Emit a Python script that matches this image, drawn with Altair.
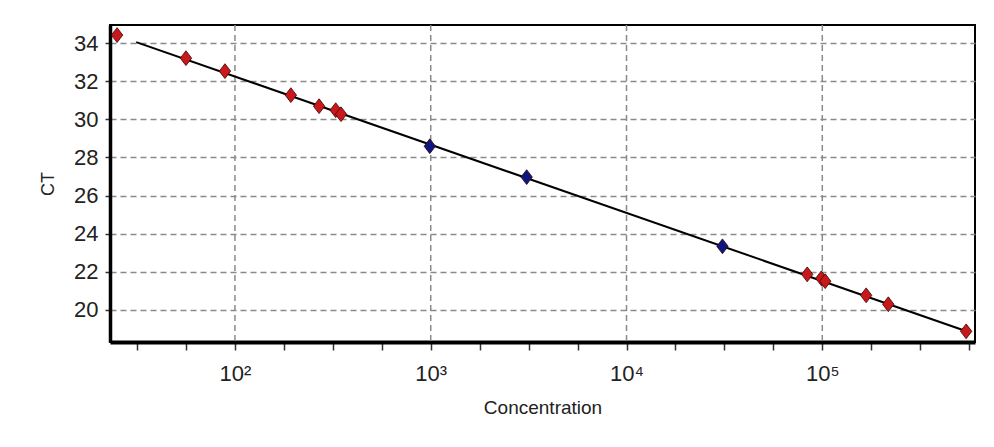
import altair as alt
import pandas as pd

# Sample points (concentration, CT, group)
conc = [25.0, 56.2, 88.9, 193, 269, 327, 348, 989, 3090, 30900,
        83750, 98850, 103500, 167500, 217300, 543000]
ct = [34.42, 33.21, 32.53, 31.27, 30.69, 30.48, 30.27, 28.59, 26.97, 23.34,
      21.87, 21.66, 21.51, 20.77, 20.30, 18.88]
group = ["unknown", "unknown", "unknown", "unknown", "unknown", "unknown", "unknown",
         "standard", "standard", "standard",
         "unknown", "unknown", "unknown", "unknown", "unknown", "unknown"]

# Fitted standard curve
fit_conc = [31.3, 549500]
fit_ct = [34.05, 18.87]

# Axis ticks
x_ticks = [31.62, 56.23, 100, 177.8, 316.2, 562.3, 1000, 1778, 3162, 5623,
           10000, 17783, 31623, 56234, 100000, 177828, 316228, 562341]
x_decades = [100, 1000, 10000, 100000]
y_ticks = [20, 22, 24, 26, 28, 30, 32, 34]

pts = pd.DataFrame({"conc": conc, "ct": ct, "group": group})
fit = pd.DataFrame({"conc": fit_conc, "ct": fit_ct})
dec = pd.DataFrame({"conc": x_decades})

FONT = "Liberation Sans"

label_expr = ("abs(log(datum.value)/LN10 - round(log(datum.value)/LN10)) < 0.01 ? "
              "'10' + ['⁰','¹','²','³','⁴','⁵','⁶'][round(log(datum.value)/LN10)] : ''")

xenc = alt.X("conc:Q",
             scale=alt.Scale(type="log", domain=[23.0, 602560], nice=False),
             axis=alt.Axis(values=x_ticks, labelExpr=label_expr, grid=False,
                           title="Concentration", titleFont=FONT, titleFontSize=19,
                           titleFontWeight="normal", titleColor="#222",
                           titlePadding=14,
                           labelFont=FONT, labelFontSize=22, labelColor="#222",
                           labelPadding=13, labelFlush=False, labelOverlap=False,
                           tickSize=8, tickColor="#333", tickWidth=1.5,
                           domainColor="black", domainWidth=4))
yenc = alt.Y("ct:Q",
             scale=alt.Scale(domain=[18.32, 34.95], nice=False, zero=False),
             axis=alt.Axis(values=y_ticks, grid=True, gridDash=[6, 4],
                           gridColor="#8a8a8a", gridWidth=1.5,
                           title="CT", titleFont=FONT, titleFontSize=18,
                           titleFontWeight="normal", titleColor="#222",
                           titlePadding=16,
                           labelFont=FONT, labelFontSize=22, labelColor="#222",
                           labelPadding=7, labelFlush=False,
                           tickSize=5, tickColor="#333", tickWidth=1.5,
                           domainColor="black", domainWidth=3.5))

vgrid = alt.Chart(dec).mark_rule(strokeDash=[6, 4], color="#8a8a8a",
                                 strokeWidth=1.5).encode(x=xenc)

line = alt.Chart(fit).mark_line(color="black", strokeWidth=2).encode(x=xenc, y=yenc)

points = alt.Chart(pts).mark_point(
    shape="M0,-1.3L1,0L0,1.3L-1,0Z", filled=True, size=130,
    stroke="#3a0000", strokeWidth=0.8, opacity=1
).encode(
    x=xenc, y=yenc,
    color=alt.Color("group:N",
                    scale=alt.Scale(domain=["unknown", "standard"],
                                    range=["#c8181c", "#0c1880"]),
                    legend=None)
)

chart = alt.layer(vgrid, line, points).properties(
    width=865, height=317,
    autosize=alt.AutoSizeParams(type="none"),
    padding={"left": 110, "top": 25, "right": 19, "bottom": 105},
    background="white"
).configure_view(stroke="black", strokeWidth=2)

chart.save("out.html", embed_options={"renderer": "svg", "actions": False})
